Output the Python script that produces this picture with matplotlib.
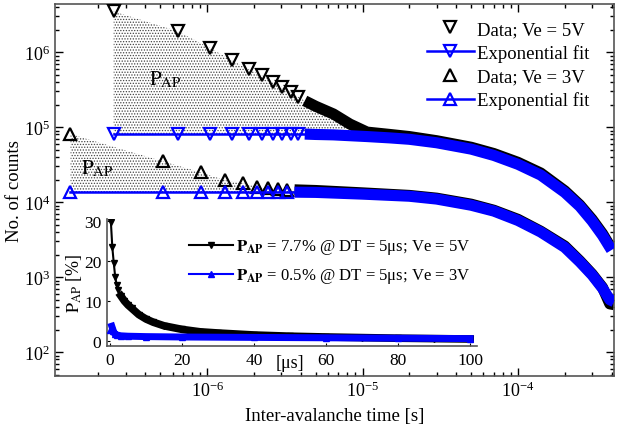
import numpy as np
import matplotlib
matplotlib.use('Agg')
import matplotlib.pyplot as plt
from matplotlib.ticker import LogLocator

plt.rcParams['font.family'] = ['Liberation Serif', 'DejaVu Serif']
plt.rcParams['mathtext.fontset'] = 'stix'
plt.rcParams['hatch.color'] = '#444444'
plt.rcParams['hatch.linewidth'] = 0.6

# --- Ve = 5V: sparse markers (s) and dense tail (s) ---
t5_dots = [2.5e-7, 6.5e-7, 1.05e-6, 1.45e-6, 1.85e-6, 2.25e-6, 2.65e-6, 3.05e-6, 3.45e-6, 3.85e-6]
n5_dots = [3.5e6, 1.9e6, 1.13e6, 7.8e5, 5.9e5, 4.9e5, 4.0e5, 3.4e5, 2.95e5, 2.55e5]
fit5_dots = [8.1e4] * 10
t5_tail = [4.25e-6, 5e-6, 6.5e-6, 8.3e-6, 1.07e-5, 1.5e-5, 2e-5, 3e-5, 5e-5, 7e-5,
           1e-4, 1.4e-4, 2e-4, 2.5e-4, 3e-4, 3.5e-4, 4e-4]
n5_tail = [2.25e5, 1.9e5, 1.5e5, 1.1e5, 8.6e4, 8.0e4, 7.5e4, 6.6e4, 5.4e4, 4.45e4,
           3.4e4, 2.45e4, 1.42e4, 9.2e3, 5.9e3, 3.8e3, 2.4e3]
fit5_tail = [8.1e4, 8.0e4, 7.9e4, 7.7e4, 7.5e4, 7.2e4, 6.9e4, 6.2e4, 5.1e4, 4.2e4,
             3.2e4, 2.3e4, 1.35e4, 8.8e3, 5.6e3, 3.6e3, 2.3e3]

# --- Ve = 3V ---
t3_dots = [1.32e-7, 5.2e-7, 9.1e-7, 1.30e-6, 1.70e-6, 2.09e-6, 2.48e-6, 2.87e-6, 3.26e-6]
n3_dots = [8.1e4, 3.5e4, 2.5e4, 1.97e4, 1.78e4, 1.6e4, 1.53e4, 1.5e4, 1.47e4]
fit3_dots = [1.36e4] * 9
t3_tail = [3.65e-6, 5e-6, 1e-5, 2e-5, 3e-5, 5e-5, 7e-5, 1e-4, 1.4e-4, 2e-4,
           2.5e-4, 3e-4, 3.5e-4, 3.9e-4, 4.15e-4]
n3_tail = [1.46e4, 1.43e4, 1.33e4, 1.23e4, 1.13e4, 9.4e3, 7.8e3, 5.9e3, 4.1e3, 2.6e3,
           1.65e3, 1.1e3, 730, 440, 430]
fit3_tail = [1.36e4, 1.35e4, 1.28e4, 1.2e4, 1.1e4, 9.1e3, 7.6e3, 5.7e3, 4.0e3, 2.5e3,
             1.6e3, 1.07e3, 710, 500, 470]

# --- inset: afterpulsing probability vs dead time ---
pin5_t = [0.25, 0.65, 1.05, 1.45, 1.85, 2.25, 3, 4, 5, 6, 8, 10, 12, 15, 20, 25, 30,
          40, 50, 60, 70, 80, 90, 100]
pin5_p = [29.7, 23.4, 19.5, 16.0, 14.0, 12.8, 11.3, 10.0, 9.0, 8.2, 6.6, 5.5, 4.7, 3.8,
          2.9, 2.3, 2.0, 1.5, 1.2, 1.0, 0.85, 0.7, 0.6, 0.5]
pin3_t = [0.1, 0.5, 0.9, 1.3, 2, 3, 5, 10, 20, 40, 60, 80, 100]
pin3_p = [2.8, 3.7, 2.6, 1.8, 1.5, 1.3, 1.2, 1.1, 1.0, 0.9, 0.8, 0.7, 0.6]

fig = plt.figure(figsize=(6.17, 4.31), dpi=100)
ax = fig.add_axes([55/617, 54/431, 559/617, 372/431])
ax.set_xscale('log')
ax.set_yscale('log')

blue = '#0000ff'
ms = 8

# stippled afterpulse areas
for td, nd, fd, tt, nt, ft in [(t5_dots, n5_dots, fit5_dots, t5_tail, n5_tail, fit5_tail),
                               (t3_dots, n3_dots, fit3_dots, t3_tail, n3_tail, fit3_tail)]:
    t = np.array(td + tt)
    n = np.array(nd + nt)
    f = np.array(fd + ft)
    ax.fill_between(t, f, n, where=n > f * 1.04, interpolate=True, facecolor='none',
                    edgecolor='#444444', hatch='......', lw=0, zorder=1)

# dense tails (thick bands)
ax.plot(t5_tail, n5_tail, color='k', lw=8, solid_capstyle='butt', zorder=2)
ax.plot(t3_tail, n3_tail, color='k', lw=8, solid_capstyle='butt', zorder=2)
ax.plot(t5_tail, fit5_tail, color=blue, lw=8, solid_capstyle='butt', zorder=3)
ax.plot(t3_tail, fit3_tail, color=blue, lw=8, solid_capstyle='butt', zorder=3)

# sparse markers
l1, = ax.plot(t5_dots, n5_dots, 'v', mfc='none', mec='k', ms=ms, mew=1.6, zorder=4,
              label='Data; Ve = 5V')
l2, = ax.plot(t5_dots + t5_tail[:1], fit5_dots + fit5_tail[:1], '-v', color=blue, lw=1.8,
              mfc='none', mec=blue, ms=ms, mew=1.6, markevery=list(range(len(t5_dots))),
              zorder=4, label='Exponential fit')
l3, = ax.plot(t3_dots, n3_dots, '^', mfc='none', mec='k', ms=ms, mew=1.6, zorder=4,
              label='Data; Ve = 3V')
l4, = ax.plot(t3_dots + t3_tail[:1], fit3_dots + fit3_tail[:1], '-^', color=blue, lw=1.8,
              mfc='none', mec=blue, ms=ms, mew=1.6, markevery=list(range(len(t3_dots))),
              zorder=4, label='Exponential fit')

ax.text(4.2e-7, 4.4e5, r'$\mathrm{P}_{\mathrm{AP}}$', fontsize=15, va='center', zorder=5)
ax.text(1.55e-7, 2.9e4, r'$\mathrm{P}_{\mathrm{AP}}$', fontsize=15, va='center', zorder=5)

ax.set_xlim(1.05e-7, 4.15e-4)
ax.set_ylim(48, 4.4e6)
ax.yaxis.set_major_locator(LogLocator(base=10, numticks=12))
ax.yaxis.set_minor_locator(LogLocator(base=10, subs=np.arange(2, 10), numticks=12))
ax.xaxis.set_minor_locator(LogLocator(base=10, subs=np.arange(2, 10), numticks=12))
ax.tick_params(which='both', direction='in', top=True, right=True, labelsize=13, width=1)
ax.tick_params(which='major', length=6)
ax.tick_params(which='minor', length=3)
ax.set_xlabel('Inter-avalanche time [s]', fontsize=13.5, labelpad=5)
ax.set_ylabel('No. of counts', fontsize=13.5, labelpad=0.5)
for s in ax.spines.values():
    s.set_color('#555555')
    s.set_linewidth(1.2)

ax.legend(handles=[l1, l2, l3, l4], loc='upper right', bbox_to_anchor=(0.98, 0.99),
          frameon=False, fontsize=13.5, handlelength=2.5, handletextpad=0.2,
          labelspacing=0.33, borderpad=0.2, numpoints=1)

# inset
ax_in = fig.add_axes([107/617, 84/431, 370/617, 127/431])
ax_in.set_facecolor('white')
ax_in.plot(pin5_t, pin5_p, color='k', lw=1.5, marker='v', ms=5, zorder=3,
           label=r'$\mathbf{P_{AP}}$ = 7.7% @ DT = 5μs; Ve = 5V')
ax_in.plot(pin5_t[6:], pin5_p[6:], color='k', lw=5.5, zorder=3)
ax_in.plot(pin3_t, pin3_p, color=blue, lw=1.5, marker='^', ms=5, zorder=4,
           label=r'$\mathbf{P_{AP}}$ = 0.5% @ DT = 5μs; Ve = 3V')
ax_in.plot(pin3_t[1:], pin3_p[1:], color=blue, lw=5, zorder=4)
ax_in.set_xlim(-0.83, 101.9)
ax_in.set_ylim(-1.25, 30.5)
ax_in.set_xticks([0, 20, 40, 60, 80, 100])
ax_in.set_yticks([0, 10, 20, 30])
ax_in.spines['top'].set_visible(False)
ax_in.spines['right'].set_visible(False)
for s in ('left', 'bottom'):
    ax_in.spines[s].set_color('#555555')
    ax_in.spines[s].set_linewidth(1.2)
ax_in.tick_params(direction='in', length=2, labelsize=12.5, pad=4)
ax_in.set_ylabel(r'$\mathrm{P}_{\mathrm{AP}}$ [%]', fontsize=13, labelpad=0)
ax_in.text(50, -5.3, '[μs]', fontsize=13, ha='center', va='center')
ax_in.legend(loc='upper left', bbox_to_anchor=(0.2, 0.92), frameon=False, fontsize=12,
             handlelength=2.6, handletextpad=0.2, labelspacing=0.6, borderpad=0)

fig.savefig('out.png', dpi=100)
